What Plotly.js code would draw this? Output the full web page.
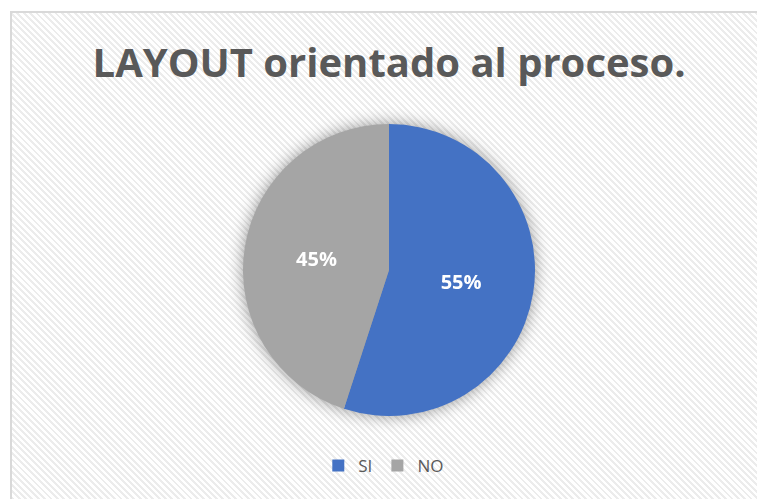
<!DOCTYPE html>
<html>
<head>
<meta charset="utf-8">
<script src="https://cdn.plot.ly/plotly-3.0.1.min.js"></script>
<style>
html, body { margin:0; padding:0; background:#ffffff; width:757px; height:499px; overflow:hidden; }
#frame {
  position:absolute; left:10px; top:11px; width:760px; height:500px;
  border:2px solid #d9d9d9; box-sizing:border-box;
  background: repeating-linear-gradient(45deg, #ffffff 0px, #ffffff 2.5px, #ececec 2.5px, #ececec 4.5px);
}
#chart { position:absolute; left:0; top:0; width:757px; height:499px; }
#chart .pielayer { filter: drop-shadow(0px 0px 8px rgba(0,0,0,0.4)); }
</style>
</head>
<body>
<div id="frame"></div>
<div id="chart"></div>
<script>
const chartTitle = "LAYOUT orientado al proceso.";
const categories = ["SI", "NO"];
const values = [55, 45];
const colors = ["#4472C4", "#A5A5A5"];

const W = 757, H = 499;
const cx = 389, cy = 270, r = 146;

const data = [{
  type: "pie",
  labels: categories,
  values: values,
  sort: false,
  direction: "clockwise",
  rotation: 0,
  marker: { colors: colors, line: { width: 0 } },
  textinfo: "percent",
  texttemplate: "%{percent:.0%}",
  textposition: "inside",
  insidetextorientation: "horizontal",
  textfont: { family: "Open Sans, sans-serif", size: 20, color: "#ffffff", weight: "bold" },
  hoverinfo: "none",
  domain: {
    x: [(cx - r) / W, (cx + r) / W],
    y: [(H - cy - r) / H, (H - cy + r) / H]
  }
}];

const layout = {
  width: W, height: H,
  margin: { l: 0, r: 0, t: 0, b: 0 },
  paper_bgcolor: "rgba(0,0,0,0)",
  plot_bgcolor: "rgba(0,0,0,0)",
  title: {
    text: "<b>" + chartTitle + "</b>",
    font: { family: "Open Sans, sans-serif", size: 40, color: "#595959" },
    x: 0.514, xanchor: "center",
    y: 1 - 63 / H, yanchor: "middle"
  },
  showlegend: true,
  legend: {
    orientation: "h",
    x: 0.507, xanchor: "center",
    y: 1 - 466 / H, yanchor: "middle",
    font: { family: "Open Sans, sans-serif", size: 17, color: "#595959" },
    itemwidth: 30,
    bgcolor: "rgba(0,0,0,0)"
  }
};

Plotly.newPlot("chart", data, layout, { staticPlot: true, displayModeBar: false });
</script>
</body>
</html>
